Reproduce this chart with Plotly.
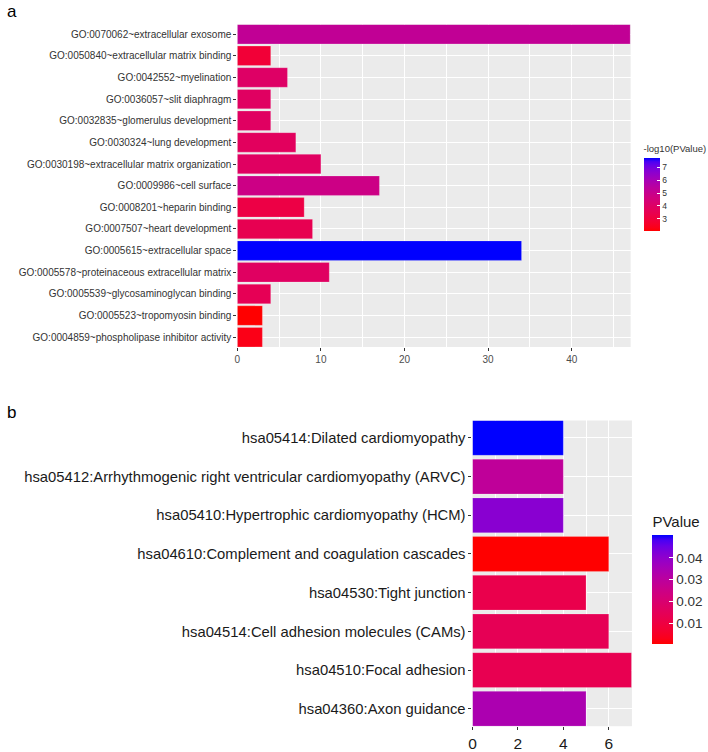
import plotly.graph_objects as go

# ---------------- data ----------------
go_terms = [
    "GO:0070062~extracellular exosome",
    "GO:0050840~extracellular matrix binding",
    "GO:0042552~myelination",
    "GO:0036057~slit diaphragm",
    "GO:0032835~glomerulus development",
    "GO:0030324~lung development",
    "GO:0030198~extracellular matrix organization",
    "GO:0009986~cell surface",
    "GO:0008201~heparin binding",
    "GO:0007507~heart development",
    "GO:0005615~extracellular space",
    "GO:0005578~proteinaceous extracellular matrix",
    "GO:0005539~glycosaminoglycan binding",
    "GO:0005523~tropomyosin binding",
    "GO:0004859~phospholipase inhibitor activity",
]
go_counts = [47, 4, 6, 4, 4, 7, 10, 17, 8, 9, 34, 11, 4, 3, 3]
go_neglog10p = [5.2, 2.9, 4.0, 3.9, 3.9, 3.8, 3.9, 4.8, 3.2, 3.5, 7.73, 3.9, 3.6, 2.05, 2.3]

kegg_terms = [
    "hsa05414:Dilated cardiomyopathy",
    "hsa05412:Arrhythmogenic right ventricular cardiomyopathy (ARVC)",
    "hsa05410:Hypertrophic cardiomyopathy (HCM)",
    "hsa04610:Complement and coagulation cascades",
    "hsa04530:Tight junction",
    "hsa04514:Cell adhesion molecules (CAMs)",
    "hsa04510:Focal adhesion",
    "hsa04360:Axon guidance",
]
kegg_counts = [4, 4, 4, 6, 5, 6, 7, 5]
kegg_pvalue = [0.0505, 0.029, 0.041, 0.0003, 0.012, 0.014, 0.013, 0.034]

go_ticks = [0, 10, 20, 30, 40]
kegg_ticks = [0, 2, 4, 6]

# ------------- colour scale: ggplot-like Lab interpolation red -> blue -------------
def srgb_to_lab(rgb):
    def lin(c):
        c = c / 255.0
        return c / 12.92 if c <= 0.04045 else ((c + 0.055) / 1.055) ** 2.4
    r, g, b = [lin(c) for c in rgb]
    X = 0.4124 * r + 0.3576 * g + 0.1805 * b
    Y = 0.2126 * r + 0.7152 * g + 0.0722 * b
    Z = 0.0193 * r + 0.1192 * g + 0.9505 * b
    Xn, Yn, Zn = 0.95047, 1.0, 1.08883
    def f(t):
        return t ** (1 / 3) if t > 0.008856 else 7.787 * t + 16 / 116
    fx, fy, fz = f(X / Xn), f(Y / Yn), f(Z / Zn)
    return (116 * fy - 16, 500 * (fx - fy), 200 * (fy - fz))

def lab_to_srgb(lab):
    L, a, b = lab
    fy = (L + 16) / 116
    fx = fy + a / 500
    fz = fy - b / 200
    def finv(t):
        return t ** 3 if t ** 3 > 0.008856 else (t - 16 / 116) / 7.787
    X, Y, Z = 0.95047 * finv(fx), finv(fy), 1.08883 * finv(fz)
    r = 3.2406 * X - 1.5372 * Y - 0.4986 * Z
    g = -0.9689 * X + 1.8758 * Y + 0.0415 * Z
    bb = 0.0557 * X - 0.2040 * Y + 1.0570 * Z
    def gam(c):
        c = max(0.0, min(1.0, c))
        return 12.92 * c if c <= 0.0031308 else 1.055 * c ** (1 / 2.4) - 0.055
    return tuple(int(round(255 * gam(c))) for c in (r, g, bb))

lab_lo = srgb_to_lab((255, 0, 0))
lab_hi = srgb_to_lab((0, 0, 255))
N = 20
scale = []
for i in range(N + 1):
    t = i / N
    lab = tuple(lab_lo[k] + (lab_hi[k] - lab_lo[k]) * t for k in range(3))
    r, g, b = lab_to_srgb(lab)
    scale.append([t, f"rgb({r},{g},{b})"])

FONT = "Liberation Sans, Arial, sans-serif"
W, H = 708, 752

fig = go.Figure()

fig.add_trace(go.Bar(
    x=go_counts, y=go_terms, orientation="h",
    marker=dict(color=go_neglog10p, coloraxis="coloraxis",
                line=dict(width=0.6, color="rgba(255,255,255,0.35)")),
    xaxis="x", yaxis="y", showlegend=False,
))
fig.add_trace(go.Bar(
    x=kegg_counts, y=kegg_terms, orientation="h",
    marker=dict(color=kegg_pvalue, coloraxis="coloraxis2",
                line=dict(width=0.6, color="rgba(255,255,255,0.35)")),
    xaxis="x2", yaxis="y2", showlegend=False,
))

# panel geometry (pixels -> paper)
def px_x(v):
    return v / W

def px_y(v):
    return 1 - v / H

fig.update_layout(
    width=W, height=H,
    margin=dict(l=0, r=0, t=0, b=0),
    paper_bgcolor="white",
    plot_bgcolor="#EBEBEB",
    bargap=0.1,
    font=dict(family=FONT, color="#333333"),
    xaxis=dict(
        domain=[px_x(235.3), px_x(632)], anchor="y",
        range=[0, 47.05], tickvals=go_ticks, ticktext=[str(t) for t in go_ticks],
        showgrid=True, gridcolor="white", gridwidth=1.1,
        minor=dict(dtick=5, tick0=0, showgrid=True, gridcolor="white", gridwidth=0.55),
        ticks="outside", ticklen=3, tickcolor="#333333", tickwidth=1,
        tickfont=dict(size=10, color="#4D4D4D", family=FONT),
        zeroline=False, showline=False,
    ),
    yaxis=dict(
        domain=[px_y(350.7), px_y(24.7)], anchor="x",
        type="category", categoryorder="array", categoryarray=go_terms,
        range=[len(go_terms) - 0.55, -0.45],
        showgrid=True, gridcolor="white", gridwidth=1.1,
        ticks="outside", ticklen=3, tickcolor="#333333", tickwidth=1,
        tickfont=dict(size=10, color="#333333", family=FONT),
        zeroline=False, showline=False,
    ),
    xaxis2=dict(
        domain=[px_x(472.5), px_x(633.3)], anchor="y2",
        range=[0, 7.02], tickvals=kegg_ticks, ticktext=[str(t) for t in kegg_ticks],
        showgrid=True, gridcolor="white", gridwidth=1.1,
        minor=dict(dtick=1, tick0=0, showgrid=True, gridcolor="white", gridwidth=0.55),
        ticks="outside", ticklen=3, tickcolor="#333333", tickwidth=1,
        tickfont=dict(size=15.5, color="#1A1A1A", family=FONT),
        zeroline=False, showline=False,
    ),
    yaxis2=dict(
        domain=[px_y(734), px_y(425)], anchor="x2",
        type="category", categoryorder="array", categoryarray=kegg_terms,
        range=[len(kegg_terms) - 0.55, -0.45],
        showgrid=True, gridcolor="white", gridwidth=1.1,
        ticks="outside", ticklen=3, tickcolor="#333333", tickwidth=1,
        tickfont=dict(size=14.8, color="#1A1A1A", family=FONT),
        zeroline=False, showline=False,
    ),
    coloraxis=dict(
        colorscale=scale,
        colorbar=dict(
            title=dict(text="-log10(PValue)", side="top", font=dict(size=9.5, color="#333333")),
            x=px_x(645), xanchor="left", y=px_y(233.5), yanchor="bottom",
            len=(233.5 - 144) / H, lenmode="fraction", thickness=16, thicknessmode="pixels",
            outlinewidth=0, tickvals=[3, 4, 5, 6, 7],
            ticks="inside", ticklen=3, tickcolor="white",
            tickfont=dict(size=8.5, color="#333333"),
            xpad=0, ypad=0,
        ),
    ),
    coloraxis2=dict(
        colorscale=scale,
        colorbar=dict(
            title=dict(text="PValue", side="top", font=dict(size=15, color="#1A1A1A")),
            x=px_x(654), xanchor="left", y=px_y(651), yanchor="bottom",
            len=(651 - 519) / H, lenmode="fraction", thickness=21, thicknessmode="pixels",
            outlinewidth=0, tickvals=[0.01, 0.02, 0.03, 0.04],
            ticks="inside", ticklen=4, tickcolor="white",
            tickfont=dict(size=13.5, color="#333333"),
            xpad=0, ypad=0,
        ),
    ),
    annotations=[
        dict(text="a", x=px_x(1), y=px_y(0), xref="paper", yref="paper",
             xanchor="left", yanchor="top", showarrow=False,
             font=dict(size=17, color="black", family=FONT)),
        dict(text="b", x=px_x(1), y=px_y(405), xref="paper", yref="paper",
             xanchor="left", yanchor="top", showarrow=False,
             font=dict(size=17, color="black", family=FONT)),
    ],
)

fig.write_html(
    "out.html",
    config={"displayModeBar": False},
    post_script="document.body.style.margin='0';document.body.style.padding='0';",
)
